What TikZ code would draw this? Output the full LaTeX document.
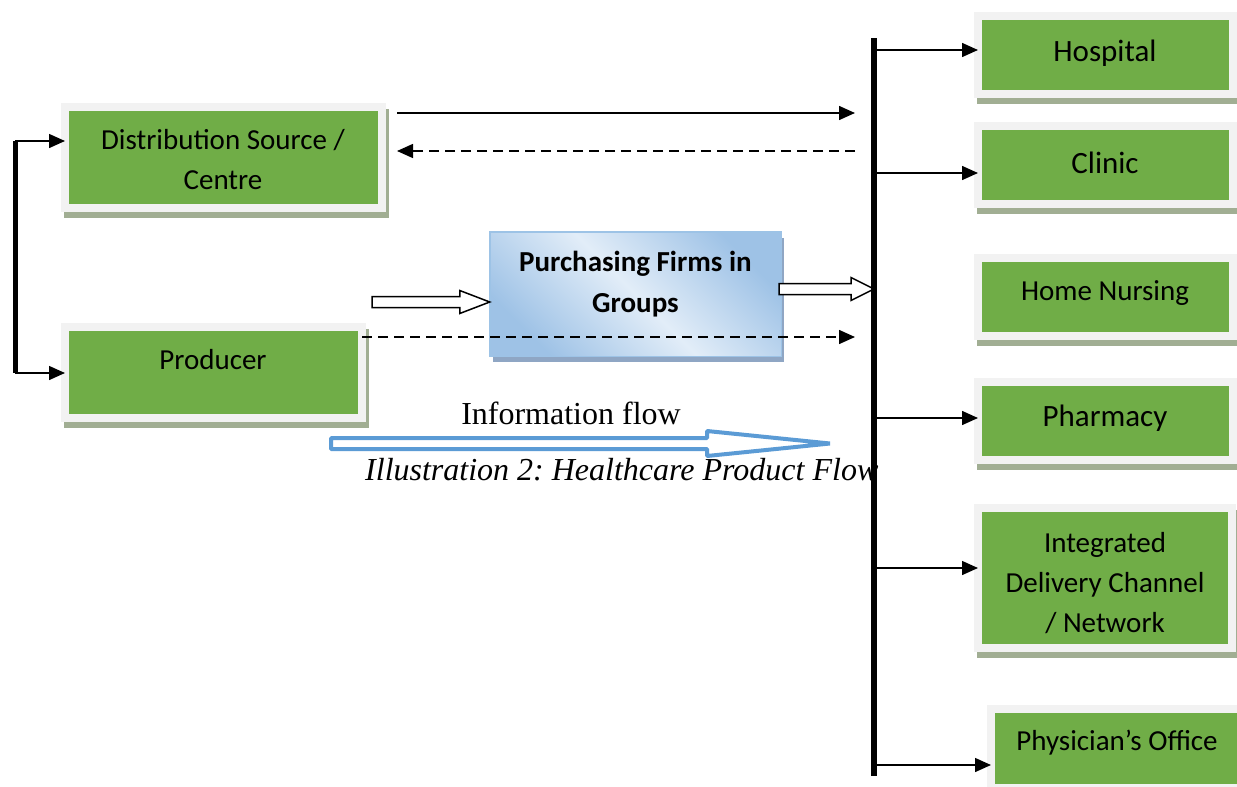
\documentclass[tikz,border=0pt]{standalone}
\usepackage{fontspec}
\setmainfont{Liberation Serif}
\newfontfamily\calfont{Carlito}
\usetikzlibrary{arrows.meta,calc}
\frenchspacing

\definecolor{boxgreen}{HTML}{70AD47}
\definecolor{framegray}{HTML}{F2F2F2}
\definecolor{gshadow}{HTML}{A1AE93}
\definecolor{bluebord}{HTML}{9DC3E6}
\definecolor{bluelight}{HTML}{E2EDF8}
\definecolor{bluedark}{HTML}{9EC2E6}
\definecolor{bshadow}{HTML}{8FA6C4}
\definecolor{infoblue}{HTML}{5B9BD5}

\tikzset{
  gbox/.style={fill=boxgreen, draw=framegray, line width=8pt, inner sep=0pt, outer sep=0pt,
    preaction={draw=gshadow, fill=gshadow, line width=8pt,
      transform canvas={shift={(3pt,-6pt)}}}},
  gtext/.style={font=\calfont\fontsize{29pt}{40pt}\selectfont, align=center, inner sep=0pt},
  gtextbig/.style={gtext, font=\calfont\fontsize{31pt}{40pt}\selectfont},
  pbox/.style={draw=bluebord, line width=1.5pt, inner sep=0pt, outer sep=0pt,
    left color=bluedark, right color=bluedark, middle color=bluelight, shading angle=135,
    preaction={fill=bshadow, transform canvas={shift={(3pt,-6pt)}}}},
  arr/.style={line width=1.5pt, -{Triangle[length=16pt,width=14pt]}},
  darr/.style={arr, dash pattern=on 10pt off 6pt},
  % block arrow: head length, shaft half width, head half width
  hollow/.style n args={3}{to path={let \p1=(\tikztostart), \p2=(\tikztotarget) in
    (\x1,\y1+#2) -- (\x2-#1,\y1+#2) -- (\x2-#1,\y1+#3) -- (\x2,\y1)
    -- (\x2-#1,\y1-#3) -- (\x2-#1,\y1-#2) -- (\x1,\y1-#2) -- cycle}},
  blockarr/.style={draw=black, fill=white, line width=1.5pt}
}

\begin{document}
\begin{tikzpicture}[x=1pt,y=-1pt]
\useasboundingbox (0,0) rectangle (1237,787);

% supply side boxes
\node[gbox, minimum width=317pt, minimum height=101pt] (dist) at (223.5,157.5) {};
\node[gbox, minimum width=297pt, minimum height=91pt] (prod) at (213.5,372.5) {};
\node[gtext] (distT) at (223,160) {Distribution Source /\\Centre};
\node[gtext] (prodT) at (213,360) {Producer};

% purchasing group box
\node[pbox, minimum width=291.5pt, minimum height=124.5pt] (pfg) at (635.5,294) {};
\node[gtext, font=\calfont\bfseries\fontsize{29pt}{41pt}\selectfont] (pfgT) at (635.5,284.5)
  {Purchasing Firms in\\Groups};

% care providers
\node[gbox, minimum width=255pt, minimum height=78pt] (hosp) at (1105.5,55) {};
\node[gbox, minimum width=255pt, minimum height=78pt] (clin) at (1105.5,165) {};
\node[gbox, minimum width=255pt, minimum height=78pt] (home) at (1105.5,297) {};
\node[gbox, minimum width=255pt, minimum height=78pt] (phar) at (1105.5,421) {};
\node[gbox, minimum width=254pt, minimum height=140pt] (idc) at (1105,578) {};
\node[gbox, minimum width=253pt, minimum height=79pt] (phys) at (1117.5,748.5) {};

\node[gtextbig] (hospT) at (1105,53) {Hospital};
\node[gtextbig] (clinT) at (1105,163) {Clinic};
\node[gtext] (homeT) at (1105,293) {Home Nursing};
\node[gtextbig] (pharT) at (1105,418) {Pharmacy};
\node[gtext] (idcT) at (1105,583) {Integrated\\Delivery Channel\\/ Network};
\node[gtext] (physT) at (1117,743) {Physician’s Office};

% key points
\coordinate (barTop) at (874,38);
\coordinate (barBot) at (874,776);
\coordinate (lbTop) at (15,141);
\coordinate (lbBot) at (15,373);

% bracket between distribution and producer
\draw[line width=5pt] (lbTop) -- (lbBot);
\draw[arr] (lbTop) -- (lbTop -| dist.west);
\draw[arr] (lbBot) -- (lbBot -| prod.west);

% flows between distribution centre and the providers' bus
\coordinate (dsOut) at (397,113);
\coordinate (dsIn) at (397,151);
\coordinate (barIn1) at (855,113);
\coordinate (barOut1) at (855,151);
\draw[arr] (dsOut) -- (barIn1);
\draw[darr] (barOut1) -- (dsIn);

% block arrows through the purchasing group
\coordinate (h1s) at (372,302);
\draw[blockarr, hollow={30pt}{5.5pt}{11.5pt}] (h1s) to (pfg.west);
\coordinate (h2s) at (779,289);
\draw[blockarr, hollow={23pt}{5.5pt}{11.5pt}] (h2s) to (h2s -| barTop);

% producer direct flow
\coordinate (pdOut) at (362,337);
\coordinate (barIn3) at (855,337);
\draw[darr] (pdOut) -- (barIn3);

% bus to providers
\foreach \n/\yy in {hosp/50, clin/173, phar/418, idc/568, phys/765}{
  \coordinate (b-\n) at (874,\yy);
  \draw[arr] (b-\n) -- (b-\n -| \n.west);
}

% information flow
\node[font=\fontsize{32pt}{36pt}\selectfont, inner sep=0pt] (infoT) at (571,413) {Information flow};
\coordinate (infoS) at (331,443.5);
\coordinate (infoE) at (830,443.5);
\draw[draw=infoblue, fill=white, line width=4pt, line join=bevel, hollow={123pt}{5.5pt}{12.5pt}]
  (infoS) to (infoE);

% caption
\node[font=\itshape\fontsize{32pt}{36pt}\selectfont, inner sep=0pt, anchor=west] (capT)
  at (365,470) {Illustration 2: Healthcare Product Flow};

% providers' bus
\draw[line width=6pt] (barTop) -- (barBot);
\end{tikzpicture}
\end{document}
